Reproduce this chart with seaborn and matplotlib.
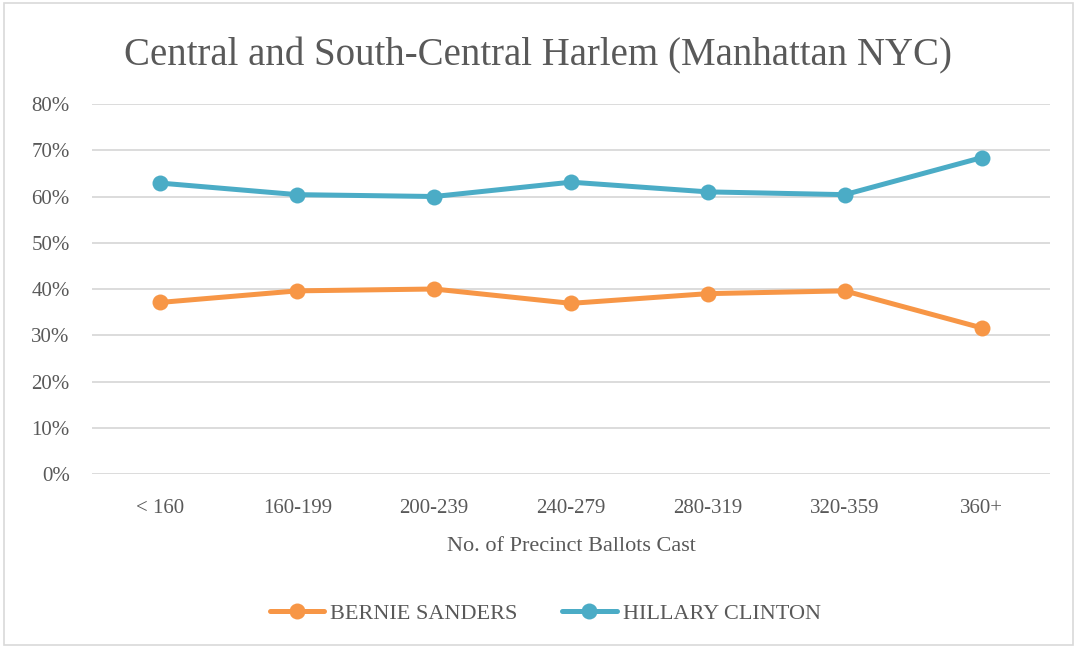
import seaborn as sns
import matplotlib.pyplot as plt
import pandas as pd
from matplotlib.patches import Rectangle

# Data
categories = ["< 160", "160-199", "200-239", "240-279", "280-319", "320-359", "360+"]
bernie = [37.1, 39.6, 40.0, 36.9, 39.0, 39.6, 31.6]
hillary = [62.9, 60.4, 60.0, 63.1, 61.0, 60.4, 68.4]

df = pd.DataFrame({
    "bucket": categories * 2,
    "share": bernie + hillary,
    "candidate": ["BERNIE SANDERS"] * len(categories) + ["HILLARY CLINTON"] * len(categories),
})

sns.set_style("white")
plt.rcParams["font.family"] = ["Liberation Serif", "DejaVu Serif"]
text_col = "#595959"

fig = plt.figure(figsize=(10.77, 6.48), dpi=100)
ax = fig.add_axes([0.0854, 0.2685, 0.8896, 0.571])

sns.lineplot(data=df, x="bucket", y="share", hue="candidate", sort=False,
             palette=["#F79646", "#4BACC6"], marker="o", markersize=11.5,
             markeredgewidth=0, linewidth=3.6, ax=ax)

ax.set_ylim(0, 80)
ax.set_xlim(-0.5, 6.5)
ax.set_yticks(range(0, 81, 10))
ax.set_yticklabels([f"{v}%" for v in range(0, 81, 10)])
ax.yaxis.grid(True, color="#d9d9d9", linewidth=1.3)
ax.set_axisbelow(True)
for s in ax.spines.values():
    s.set_visible(False)
ax.tick_params(axis="both", length=0, labelsize=15, labelcolor=text_col)
ax.tick_params(axis="y", pad=16)
ax.tick_params(axis="x", pad=18)

ax.set_xlabel("No. of Precinct Ballots Cast", fontsize=16, color=text_col, labelpad=14)
ax.set_ylabel("")
fig.suptitle("Central and South-Central Harlem (Manhattan NYC)", fontsize=28,
             color=text_col, y=0.943)

ax.legend(loc="center", bbox_to_anchor=(0.473, -0.378), ncol=2, frameon=False,
          fontsize=16, labelcolor=text_col, handlelength=2.45, columnspacing=2.0,
          handletextpad=0.27)

fig.patches.append(Rectangle((0.004, 0.004), 0.992, 0.992, transform=fig.transFigure,
                             fill=False, edgecolor="#d9d9d9", linewidth=1.2))

fig.savefig("out.png", dpi=100)
